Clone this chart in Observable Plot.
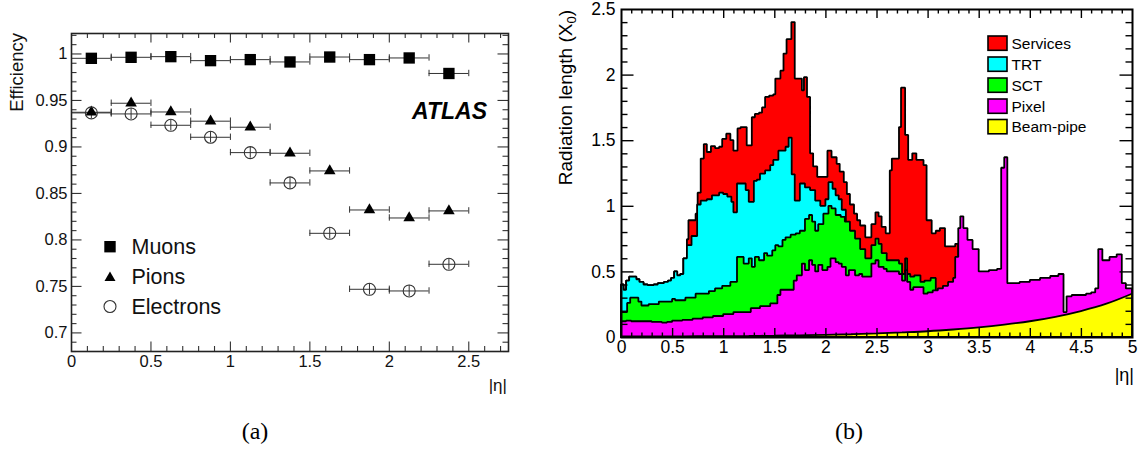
<!DOCTYPE html>
<html><head><meta charset="utf-8">
<script src="https://cdn.jsdelivr.net/npm/d3@7"></script>
<script src="https://cdn.jsdelivr.net/npm/@observablehq/plot@0.6"></script>
<style>
body{margin:0;background:#fff;}
#wrap{position:relative;width:1139px;height:451px;overflow:hidden;background:#fff;}
#wrap > svg{position:absolute;top:0;}
</style></head><body><div id="wrap"></div>
<script>
// ================= Panel (a): efficiency vs |eta| =================
const effBinEdges = [0, 0.25, 0.5, 0.75, 1, 1.25, 1.5, 1.75, 2, 2.25, 2.5];
const muonEff     = [0.9953, 0.9964, 0.9971, 0.9928, 0.9939, 0.9914, 0.9967, 0.9939, 0.9957, 0.9790];
const pionEff     = [0.9373, 0.9470, 0.9376, 0.9277, 0.9212, 0.8932, 0.8742, 0.8322, 0.8236, 0.8312];
const electronEff = [0.9366, 0.9355, 0.9233, 0.9104, 0.8939, 0.8613, 0.8071, 0.7469, 0.7451, 0.7738];
const muonErr     = [0.001, 0.001, 0.001, 0.001, 0.001, 0.001, 0.001, 0.001, 0.001, 0.002];
const pionErr     = [0.002, 0.002, 0.002, 0.002, 0.002, 0.002, 0.002, 0.002, 0.002, 0.002];
const electronErr = [0.006, 0.006, 0.006, 0.006, 0.006, 0.006, 0.006, 0.006, 0.006, 0.006];
const effSeriesNames = ["Muons", "Pions", "Electrons"];
const xTicksA = [0, 0.5, 1, 1.5, 2, 2.5];
const yTicksA = [0.7, 0.75, 0.8, 0.85, 0.9, 0.95, 1];

// ================= Panel (b): radiation length vs |eta| (cumulative tops) =================
const servicesEta = [0,0.025,0.05,0.08,0.15,0.18,0.22,0.26,0.32,0.36,0.42,0.46,0.49,0.52,0.55,0.58,0.61,0.645,0.66,0.73,0.75,0.78,0.81,0.84,0.88,0.92,0.96,0.99,1.03,1.07,1.10,1.14,1.17,1.23,1.28,1.31,1.35,1.38,1.41,1.45,1.49,1.51,1.56,1.59,1.62,1.667,1.70,1.77,1.79,1.82,1.85,1.88,1.92,2.02,2.06,2.11,2.14,2.18,2.21,2.24,2.28,2.31,2.34,2.39,2.45,2.49,2.52,2.55,2.59,2.63,2.65,2.72,2.74,2.78,2.81,2.85,2.89,2.96,2.99,3.04,3.08,3.12,3.17,3.27];
const servicesTop = [0.40,0.36,0.43,0.46,0.44,0.42,0.40,0.395,0.40,0.41,0.42,0.43,0.45,0.50,0.47,0.48,0.60,0.745,0.89,0.94,1.10,1.36,1.47,1.41,1.455,1.44,1.45,1.51,1.55,1.50,1.42,1.59,1.60,1.46,1.675,1.70,1.71,1.75,1.83,1.84,1.85,1.97,2.03,2.16,2.27,2.40,1.97,1.88,1.98,1.83,1.40,1.30,1.22,1.42,1.37,1.32,1.26,1.18,1.09,1.01,0.94,0.89,0.85,0.76,0.86,0.95,0.92,0.84,0.79,1.27,1.36,1.60,1.90,1.54,1.35,1.40,1.35,1.31,0.89,0.79,0.81,0.83,0.69,0.71];
const servicesEnd = 3.30;

const trtEta = [0,0.025,0.05,0.08,0.15,0.18,0.22,0.26,0.32,0.36,0.42,0.46,0.49,0.52,0.55,0.58,0.61,0.645,0.69,0.745,0.78,0.84,0.89,0.96,1.00,1.04,1.08,1.10,1.135,1.17,1.22,1.25,1.30,1.33,1.36,1.41,1.46,1.49,1.54,1.61,1.64,1.67,1.70,1.75,1.80,1.85,1.90,1.95,2.00,2.03,2.07,2.10,2.13,2.16];
const trtTop = [0.40,0.36,0.43,0.46,0.44,0.42,0.40,0.395,0.40,0.41,0.42,0.43,0.45,0.50,0.47,0.48,0.60,0.70,0.77,1.01,1.04,1.05,1.08,1.10,1.09,1.07,1.03,0.95,1.17,1.17,1.12,1.03,1.19,1.20,1.245,1.27,1.31,1.35,1.42,1.45,1.52,1.24,1.04,1.17,1.14,1.12,1.04,1.00,1.05,1.18,1.13,1.08,1.05,0.97];
const trtEnd = 2.20;

const sctEta = [0,0.06,0.09,0.17,0.20,0.27,0.37,0.50,0.53,0.63,0.73,0.86,0.92,0.99,1.07,1.135,1.20,1.25,1.28,1.31,1.35,1.40,1.43,1.48,1.51,1.54,1.58,1.61,1.66,1.71,1.75,1.80,1.84,1.87,1.90,1.93,1.98,2.03,2.06,2.10,2.15,2.19,2.24,2.29,2.34,2.39,2.45,2.49,2.52,2.55,2.60,2.72,2.75,2.78,2.80,2.83,2.87,2.93,2.97,3.03];
const sctTop = [0.19,0.26,0.30,0.27,0.24,0.25,0.27,0.29,0.28,0.30,0.33,0.35,0.37,0.39,0.42,0.61,0.56,0.60,0.535,0.61,0.585,0.64,0.62,0.66,0.70,0.69,0.74,0.76,0.78,0.79,0.81,0.90,0.93,0.88,0.81,0.86,0.94,1.00,0.98,0.93,0.915,0.88,0.81,0.75,0.67,0.60,0.70,0.75,0.71,0.64,0.585,0.56,0.48,0.60,0.48,0.46,0.47,0.42,0.43,0.45];
const sctEnd = 3.08;

const pixelEta = [0,0.05,0.10,0.30,0.40,0.45,0.50,0.60,0.70,0.80,0.90,1.00,1.10,1.17,1.27,1.36,1.46,1.53,1.56,1.69,1.72,1.77,1.80,1.84,1.87,1.90,1.93,1.97,2.02,2.05,2.10,2.13,2.16,2.20,2.23,2.29,2.33,2.36,2.45,2.49,2.52,2.57,2.60,2.72,2.75,2.78,2.80,2.83,2.86,2.96,3.00,3.05,3.10,3.15,3.20,3.25,3.27,3.30,3.32,3.35,3.39,3.44,3.50,3.60,3.68,3.72,3.75,3.78,3.90,4.00,4.10,4.20,4.28,4.33,4.36,4.41,4.55,4.60,4.64,4.67,4.71,4.78,4.85,4.90,4.94];
const pixelTop = [0.12,0.125,0.12,0.115,0.11,0.115,0.125,0.13,0.14,0.15,0.16,0.175,0.19,0.19,0.22,0.235,0.256,0.32,0.36,0.43,0.47,0.56,0.51,0.585,0.55,0.50,0.55,0.51,0.535,0.60,0.57,0.56,0.535,0.47,0.51,0.47,0.48,0.46,0.56,0.585,0.535,0.52,0.50,0.48,0.43,0.51,0.42,0.36,0.38,0.33,0.34,0.355,0.37,0.39,0.42,0.45,0.61,0.83,0.92,0.83,0.74,0.67,0.50,0.51,0.52,1.29,1.37,0.41,0.42,0.435,0.45,0.465,0.48,0.19,0.31,0.32,0.33,0.34,0.37,0.67,0.585,0.61,0.63,0.41,0.37];
const pixelEnd = 5.0;

const beamPipeEta = [0,0.25,0.5,0.75,1,1.25,1.5,1.75,2,2.25,2.5,2.75,3,3.25,3.5,3.75,4,4.25,4.5,4.75,5];
const beamPipeTop = [0.004,0.0045,0.005,0.0057,0.0068,0.0083,0.0104,0.013,0.0166,0.021,0.027,0.035,0.044,0.057,0.073,0.094,0.12,0.154,0.198,0.254,0.33];

const materialNames  = ["Services", "TRT", "SCT", "Pixel", "Beam-pipe"];
const materialColors = ["#ff0000", "#00ffff", "#00ff00", "#ff00ff", "#ffff00"];
const xTicksB = [0, 0.5, 1, 1.5, 2, 2.5, 3, 3.5, 4, 4.5, 5];
const yTicksB = [0, 0.5, 1, 1.5, 2, 2.5];

// ---------------- helpers ----------------
const FONT = "'Liberation Sans', Arial, Helvetica, sans-serif";
const wrap = document.getElementById("wrap");
function stepPoints(etas, tops, end) {
  const pts = etas.map((e, i) => ({eta: e, v: tops[i]}));
  pts.push({eta: end, v: tops[tops.length - 1]});
  return pts;
}
function minorTicks(lo, hi, step, majors) {
  const out = [];
  for (let k = Math.round(lo / step); k * step <= hi + 1e-9; k++) {
    const v = +(k * step).toFixed(4);
    if (v < lo - 1e-9) continue;
    if (!majors.some(m => Math.abs(m - v) < 1e-6)) out.push(v);
  }
  return out;
}
function tickMarks(xd, yd, kx, ky, xMaj, xMin, yMaj, yMin, lenX, lenY, color, sw) {
  const [x0, x1] = xd, [y0, y1] = yd;
  const o = {stroke: color, strokeWidth: sw};
  return [
    Plot.ruleX(xMaj.filter(v => v > x0 && v < x1), {x: d => d, y1: y0, y2: y0 + lenX[0] * ky, ...o}),
    Plot.ruleX(xMaj.filter(v => v > x0 && v < x1), {x: d => d, y1: y1 - lenX[0] * ky, y2: y1, ...o}),
    Plot.ruleX(xMin, {x: d => d, y1: y0, y2: y0 + lenX[1] * ky, ...o}),
    Plot.ruleX(xMin, {x: d => d, y1: y1 - lenX[1] * ky, y2: y1, ...o}),
    Plot.ruleY(yMaj.filter(v => v > y0 && v < y1), {y: d => d, x1: x0, x2: x0 + lenY[0] * kx, ...o}),
    Plot.ruleY(yMaj.filter(v => v > y0 && v < y1), {y: d => d, x1: x1 - lenY[0] * kx, x2: x1, ...o}),
    Plot.ruleY(yMin, {y: d => d, x1: x0, x2: x0 + lenY[1] * kx, ...o}),
    Plot.ruleY(yMin, {y: d => d, x1: x1 - lenY[1] * kx, x2: x1, ...o})
  ];
}

// ---------------- Panel (a) ----------------
const effValues = {Muons: muonEff, Pions: pionEff, Electrons: electronEff};
const effErrors = {Muons: muonErr, Pions: pionErr, Electrons: electronErr};
const effRows = effSeriesNames.flatMap(s => effValues[s].map((v, i) => ({
  series: s, lo: effBinEdges[i], hi: effBinEdges[i + 1],
  c: (effBinEdges[i] + effBinEdges[i + 1]) / 2, eff: v, err: effErrors[s][i]
})));
const A = {w: 540, h: 400, ml: 71, mr: 32, mt: 33, mb: 49};
const xdA = [0, 2.75], ydA = [0.68, 1.022];
const kxA = (xdA[1] - xdA[0]) / (A.w - A.ml - A.mr);
const kyA = (ydA[1] - ydA[0]) / (A.h - A.mt - A.mb);
const capA = 3.2 * kyA;
const ebar = {stroke: "#333", strokeWidth: 1};
const plotA = Plot.plot({
  width: A.w, height: A.h, marginLeft: A.ml, marginRight: A.mr, marginTop: A.mt, marginBottom: A.mb,
  style: {fontFamily: FONT, color: "#111", background: "transparent", overflow: "visible"},
  x: {domain: xdA},
  y: {domain: ydA},
  marks: [
    Plot.ruleY(effRows, {y: "eff", x1: "lo", x2: "hi", ...ebar}),
    Plot.ruleX(effRows, {x: "lo", y1: d => d.eff - capA, y2: d => d.eff + capA, ...ebar}),
    Plot.ruleX(effRows, {x: "hi", y1: d => d.eff - capA, y2: d => d.eff + capA, ...ebar}),
    Plot.ruleX(effRows, {x: "c", y1: d => d.eff - d.err, y2: d => d.eff + d.err, ...ebar}),
    Plot.dot(effRows.filter(d => d.series === "Muons"), {x: "c", y: "eff", symbol: "square", fill: "black", r: 6.4}),
    Plot.dot(effRows.filter(d => d.series === "Pions"), {x: "c", y: "eff", symbol: "triangle", fill: "black", r: 4.3}),
    Plot.dot(effRows.filter(d => d.series === "Electrons"), {x: "c", y: "eff", symbol: "circle", fill: "none", stroke: "#333", strokeWidth: 1.1, r: 6}),
    ...tickMarks(xdA, ydA, kxA, kyA, xTicksA, minorTicks(0, 2.75, 0.1, xTicksA), yTicksA,
      minorTicks(0.68, 1.022, 0.01, yTicksA), [9.5, 5], [10.5, 5.5], "#333", 1.1),
    Plot.frame({stroke: "#222", strokeWidth: 1.6}),
    Plot.axisX(xTicksA, {tickSize: 0, tickPadding: 4, fontSize: 16.5, tickFormat: d => String(d), label: null}),
    Plot.axisY(yTicksA, {tickSize: 0, tickPadding: 4, fontSize: 16.5, tickFormat: d => String(d), label: null})
  ]
});
plotA.style.left = "0px";
wrap.appendChild(plotA);

// ---------------- Panel (b) ----------------
const B = {w: 599, h: 400, ml: 81, mr: 7, mt: 9, mb: 63};
const xdB = [0, 5], ydB = [0, 2.5];
const kxB = (xdB[1] - xdB[0]) / (B.w - B.ml - B.mr);
const kyB = (ydB[1] - ydB[0]) / (B.h - B.mt - B.mb);
const layers = [
  stepPoints(servicesEta, servicesTop, servicesEnd),
  stepPoints(trtEta, trtTop, trtEnd),
  stepPoints(sctEta, sctTop, sctEnd),
  stepPoints(pixelEta, pixelTop, pixelEnd)
];
const beamPts = beamPipeEta.map((e, i) => ({eta: e, v: beamPipeTop[i]}));
const histStyle = {stroke: "black", strokeWidth: 1.8, strokeLinejoin: "miter"};
const plotB = Plot.plot({
  width: B.w, height: B.h, marginLeft: B.ml, marginRight: B.mr, marginTop: B.mt, marginBottom: B.mb,
  style: {fontFamily: FONT, color: "#000", background: "transparent", overflow: "visible"},
  x: {domain: xdB},
  y: {domain: ydB},
  marks: [
    ...layers.map((pts, i) => Plot.areaY(pts, {x: "eta", y: "v", curve: "step-after", fill: materialColors[i], ...histStyle})),
    Plot.areaY(beamPts, {x: "eta", y: "v", curve: "monotone-x", fill: materialColors[4], ...histStyle}),
    ...tickMarks(xdB, ydB, kxB, kyB, xTicksB, minorTicks(0, 5, 0.1, xTicksB), yTicksB,
      minorTicks(0, 2.5, 0.1, yTicksB), [9, 4.5], [12.5, 6.5], "#000", 1.4),
    Plot.frame({stroke: "black", strokeWidth: 2}),
    Plot.axisX(xTicksB, {tickSize: 0, tickPadding: 3, fontSize: 17.5, tickFormat: d => String(d), label: null}),
    Plot.axisY(yTicksB, {tickSize: 0, tickPadding: 6, fontSize: 17.5, tickFormat: d => String(d), label: null})
  ]
});
plotB.style.left = "540px";
wrap.appendChild(plotB);

// ---------------- annotations overlay ----------------
const ov = d3.select(wrap).append("svg")
  .attr("width", 1139).attr("height", 451)
  .style("left", "0px").style("pointer-events", "none")
  .attr("font-family", FONT);

// panel (a) axis titles
ov.append("text").attr("transform", "translate(23,33) rotate(-90)")
  .attr("text-anchor", "end").attr("font-size", 18.5).attr("fill", "#111").text("Efficiency");
ov.append("text").attr("x", 507).attr("y", 391).attr("text-anchor", "end")
  .attr("font-size", 17).attr("fill", "#111").text("|η|");
ov.append("text").attr("x", 487).attr("y", 119).attr("text-anchor", "end")
  .attr("font-size", 23).attr("font-weight", "bold").attr("font-style", "italic")
  .attr("fill", "#000").text("ATLAS");

// panel (a) legend
const legA = [{y: 246.7}, {y: 276.5}, {y: 306.5}];
ov.append("rect").attr("x", 104.3).attr("y", legA[0].y - 5.7).attr("width", 11.4).attr("height", 11.4).attr("fill", "black");
ov.append("path").attr("d", `M104.5,${legA[1].y + 4.5}L115.5,${legA[1].y + 4.5}L110,${legA[1].y - 5}Z`).attr("fill", "black");
ov.append("circle").attr("cx", 110).attr("cy", legA[2].y).attr("r", 6).attr("fill", "none").attr("stroke", "#333").attr("stroke-width", 1.1);
effSeriesNames.forEach((n, i) => {
  ov.append("text").attr("x", 131.5).attr("y", legA[i].y + 7.5)
    .attr("font-size", 21.5).attr("fill", "#111").text(n);
});

// panel (b) axis titles
const yl = ov.append("text").attr("transform", "translate(572,10) rotate(-90)")
  .attr("text-anchor", "end").attr("font-size", 19).attr("fill", "#000");
yl.append("tspan").text("Radiation length (X");
yl.append("tspan").attr("font-size", 13).attr("dy", 4).text("0");
yl.append("tspan").attr("dy", -4).text(")");
ov.append("text").attr("x", 1134).attr("y", 381).attr("text-anchor", "end")
  .attr("font-size", 18).attr("fill", "#000").text("|η|");

// panel (b) legend
const legBy = [36, 57, 78, 99, 119.5];
materialNames.forEach((n, i) => {
  ov.append("rect").attr("x", 988).attr("y", legBy[i]).attr("width", 19).attr("height", 14.3)
    .attr("fill", materialColors[i]).attr("stroke", "black").attr("stroke-width", 1.6);
  ov.append("text").attr("x", 1011.5).attr("y", legBy[i] + 12.6)
    .attr("font-size", 15.5).attr("fill", "#000").text(n);
});

// captions
const capFont = "'Liberation Serif', 'DejaVu Serif', serif";
ov.append("text").attr("x", 255).attr("y", 439).attr("text-anchor", "middle")
  .attr("font-family", capFont).attr("font-size", 24).text("(a)");
ov.append("text").attr("x", 849).attr("y", 439).attr("text-anchor", "middle")
  .attr("font-family", capFont).attr("font-size", 24).text("(b)");
</script>
</body></html>
